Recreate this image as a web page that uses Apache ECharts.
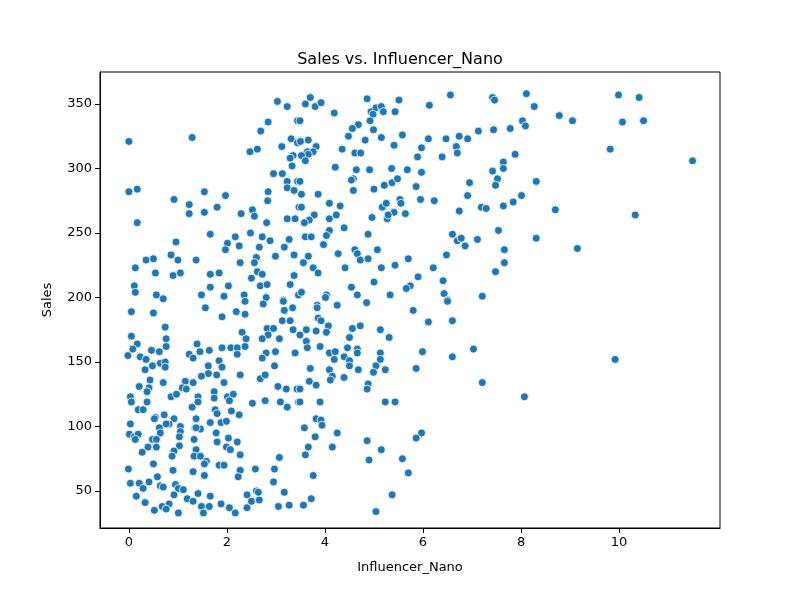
<html>
<head>
<meta charset="utf-8">
<script src="https://cdn.jsdelivr.net/npm/echarts@6/dist/echarts.min.js"></script>
<style>
  html, body { margin: 0; padding: 0; background: #fff; }
  #chart { width: 800px; height: 600px; }
</style>
</head>
<body>
<div id="chart"></div>
<script>
// Influencer_Nano values (x) and Sales values (y)
var nanoValues = [
  0.0,1.29,3.03,3.23,2.84,2.69,3.44,2.47,2.62,3.12,3.31,3.44,3.35,3.29,3.33,2.95,3.13,3.23,3.23,3.37,3.44,
  0.0,0.17,1.54,0.92,1.97,1.23,1.23,1.54,1.80,2.84,2.83,0.17,2.29,2.52,2.56,2.81,3.23,3.39,3.47,1.66,0.96,
  2.17,2.48,2.72,2.88,3.27,2.01,2.25,1.97,2.66,3.17,0.86,1.00,0.35,0.50,1.37,2.60,2.99,3.37,0.13,0.54,0.90,
  1.05,2.27,2.56,1.66,1.84,2.62,2.72,3.37,2.50,0.11,0.13,0.56,0.70,1.48,1.66,2.03,1.94,2.35,2.68,2.82,3.29,
  2.80,3.15,3.46,
  0.05,0.50,1.56,1.90,2.19,2.37,2.37,2.74,3.15,3.17,3.34,3.13,3.29,3.35,0.74,0.05,0.17,0.76,0.76,0.46,0.62,
  0.08,-0.02,0.23,0.35,0.48,0.64,0.74,0.74,0.33,1.39,1.45,1.64,1.23,1.31,1.90,2.08,2.21,2.21,2.37,2.31,2.39,
  2.82,2.95,2.84,2.72,3.07,2.99,2.80,2.72,3.39,2.97,1.62,1.84,1.90,1.62,1.79,1.48,2.27,0.43,0.70,0.21,0.41,
  0.37,1.15,1.31,1.09,1.17,1.94,2.68,2.78,3.04,3.21,3.43,0.86,0.97,0.03,0.05,0.19,0.29,0.37,1.29,1.41,1.41,
  1.74,1.74,2.03,2.01,2.13,2.05,2.52,2.78,3.09,3.23,3.46,0.72,0.54,1.76,1.80,2.09,2.25,0.52,1.37,0.92,0.82,
  0.76,1.05,1.66,1.88,1.99,0.03,0.01,0.11,0.19,0.13,0.62,0.64,1.35,1.46,1.37,1.05,1.03,0.48,0.56,0.39,0.56,
  1.03,1.33,1.78,1.80,2.03,2.21,1.99,2.07,0.27,0.92,0.88,1.37,1.33,1.46,1.58,1.54,2.27,3.07,0.50,-0.01,0.90,
  1.31,1.54,1.84,1.94,2.27,2.23,2.58,2.97,2.95,0.58,0.03,0.21,0.29,0.41,0.64,0.70,0.95,1.01,1.11,0.92,0.15,
  0.33,1.19,1.31,1.41,1.66,1.48,1.64,1.52,0.68,0.82,0.76,0.52,1.01,1.88,2.05,2.17,2.41,2.41,2.50,2.60,2.66,
  2.64,3.05,3.27,3.17,
  3.70,3.60,3.80,3.92,4.19,4.86,4.94,5.04,5.15,4.98,5.19,5.43,5.51,6.13,6.56,7.42,7.46,4.92,4.68,4.56,4.99,
  4.48,4.82,5.15,5.58,5.41,6.11,6.47,6.74,6.91,7.13,7.44,6.68,6.70,6.39,5.97,5.89,3.49,3.50,3.66,3.82,3.64,
  3.76,3.66,3.52,3.60,4.35,4.61,4.73,4.21,4.64,4.91,5.36,5.68,5.97,7.42,7.52,7.48,6.95,6.91,4.58,4.54,4.58,
  5.00,5.21,5.37,5.48,5.86,5.95,6.23,3.49,3.52,3.86,4.09,4.31,3.52,5.17,5.25,5.53,5.55,5.41,5.64,4.96,5.27,
  5.29,6.74,7.19,7.29,7.54,3.78,3.68,3.58,4.09,4.23,4.39,4.09,4.03,3.60,3.72,4.88,6.60,6.70,6.78,6.86,7.11,
  3.97,4.27,4.61,4.66,5.07,4.72,4.88,3.66,3.56,3.76,3.86,4.41,5.15,5.43,5.70,6.21,6.48,7.48,5.00,5.90,5.74,
  5.66,6.41,4.54,4.66,5.33,4.03,4.01,3.52,6.43,6.50,7.21,
  3.84,3.84,4.25,4.85,5.80,6.11,6.60,6.50,3.86,3.92,4.07,3.62,3.82,4.03,3.49,3.62,3.64,3.90,4.56,4.72,5.13,
  5.31,4.50,4.46,4.66,4.66,4.09,4.21,4.19,4.39,4.50,4.50,4.68,5.13,5.13,5.04,5.23,4.99,5.99,6.60,7.03,5.86,
  7.21,3.70,4.09,4.15,4.11,4.39,3.68,3.82,3.49,4.88,4.86,3.49,3.90,5.23,5.43,3.82,3.92,3.94,3.58,3.80,4.25,
  3.66,3.60,4.15,4.86,5.15,4.90,5.58,5.97,5.86,5.70,3.76,3.72,3.56,5.37,5.04,
  8.11,8.27,8.78,9.05,9.99,10.41,10.07,10.50,8.03,8.09,7.78,9.82,11.50,7.88,7.64,7.64,8.31,8.01,7.84,7.64,
  8.70,10.33,8.31,9.15,7.66,7.66,8.07,9.92
];
var salesValues = [
  321,324,352,348,336,329,337,313,315,317,323,320,310,308,302,296,296,290,285,283,290,
  282,284,282,276,279,272,265,266,270,282,275,258,265,268,263,258,261,261,270,249,243,
  247,250,247,244,245,242,240,237,239,239,233,229,229,230,229,231,232,233,223,219,217,
  219,227,227,218,219,220,218,217,215,209,204,202,199,202,208,209,201,202,209,210,210,
  200,198,202,
  189,188,192,185,189,187,197,195,197,190,192,182,182,175,177,170,164,168,162,159,158,
  160,155,154,152,147,149,150,146,144,164,158,159,156,153,161,161,161,156,162,173,168,
  176,176,171,168,168,158,157,153,157,147,147,151,146,141,140,139,140,136,134,131,130,
  127,135,134,130,129,134,137,140,131,129,129,123,125,123,119,113,113,119,115,123,119,
  127,122,122,123,125,120,118,120,119,115,119,109,107,113,110,112,109,106,106,106,102,
  102,100,103,103,104,102,94,92,94,90,99,95,99,98,99,96,92,90,90,84,84,
  85,90,95,88,91,88,84,82,80,81,77,82,77,77,73,71,78,76,71,67,66,
  65,62,70,70,66,61,67,67,57,61,56,56,52,57,54,53,55,52,51,47,46,
  41,44,42,48,46,38,38,33,38,40,36,35,33,40,37,33,37,47,42,50,43,
  49,38,39,49,
  355,350,348,351,343,354,344,347,348,342,344,344,353,349,357,355,353,337,334,331,330,
  325,322,324,326,318,323,323,325,323,329,330,317,312,309,316,309,337,321,322,317,313,
  313,311,310,306,315,312,312,301,299,299,300,299,297,298,292,287,289,279,292,291,283,
  284,287,289,292,286,276,275,290,280,280,273,271,270,270,273,276,273,266,265,262,261,
  264,267,270,269,252,264,260,258,261,264,254,252,248,247,247,249,249,244,246,240,245,
  241,234,237,234,237,229,230,232,227,223,219,223,223,225,230,223,233,220,212,216,209,
  207,213,208,202,202,202,200,204,203,198,201,
  194,192,194,196,190,181,182,197,184,182,178,175,174,173,171,166,161,162,176,178,175,
  169,169,161,160,157,157,158,152,154,151,147,144,157,152,147,144,142,158,154,160,145,
  134,145,144,139,136,138,135,132,129,133,129,119,119,119,119,106,105,101,99,92,95,
  84,78,84,89,82,74,75,95,91,64,62,44,39,47,34,
  358,348,341,337,357,355,336,337,337,333,331,315,306,311,305,300,290,279,274,271,
  268,264,246,238,237,227,123,152
];
var xTicks = [0, 2, 4, 6, 8, 10];
var yTicks = [50, 100, 150, 200, 250, 300, 350];

var points = nanoValues.map(function (x, i) { return [x, salesValues[i]]; });

var chart = echarts.init(document.getElementById('chart'));
var axisFont = { fontFamily: 'DejaVu Sans', fontSize: 13, color: '#000' };

chart.setOption({
  animation: false,
  backgroundColor: '#fff',
  title: {
    text: 'Sales vs. Influencer_Nano',
    left: 'center',
    top: 47,
    textStyle: { fontFamily: 'DejaVu Sans', fontSize: 16, fontWeight: 'normal', color: '#000' }
  },
  grid: {
    left: 100, right: 80, top: 72, bottom: 72,
    show: true, borderColor: '#000', borderWidth: 1, backgroundColor: 'transparent'
  },
  xAxis: {
    type: 'value',
    min: -0.59, max: 12.06,
    name: 'Influencer_Nano',
    nameLocation: 'middle',
    nameGap: 33,
    nameTextStyle: axisFont,
    splitLine: { show: false },
    axisLine: { show: true, onZero: false, lineStyle: { color: '#000' } },
    axisTick: { show: true, length: 5, lineStyle: { color: '#000' }, customValues: xTicks },
    axisLabel: Object.assign({ customValues: xTicks, margin: 8 }, axisFont)
  },
  yAxis: {
    type: 'value',
    min: 21.3, max: 374.8,
    name: 'Sales',
    nameLocation: 'middle',
    nameGap: 46,
    nameTextStyle: axisFont,
    splitLine: { show: false },
    axisLine: { show: true, onZero: false, lineStyle: { color: '#000' } },
    axisTick: { show: true, length: 5, lineStyle: { color: '#000' }, customValues: yTicks },
    axisLabel: Object.assign({ customValues: yTicks, margin: 8 }, axisFont)
  },
  series: [{
    type: 'scatter',
    data: points,
    symbol: 'circle',
    symbolSize: 8,
    itemStyle: { color: '#1f77b4', borderColor: '#fff', borderWidth: 0.8, opacity: 1 }
  }]
});
</script>
</body>
</html>
